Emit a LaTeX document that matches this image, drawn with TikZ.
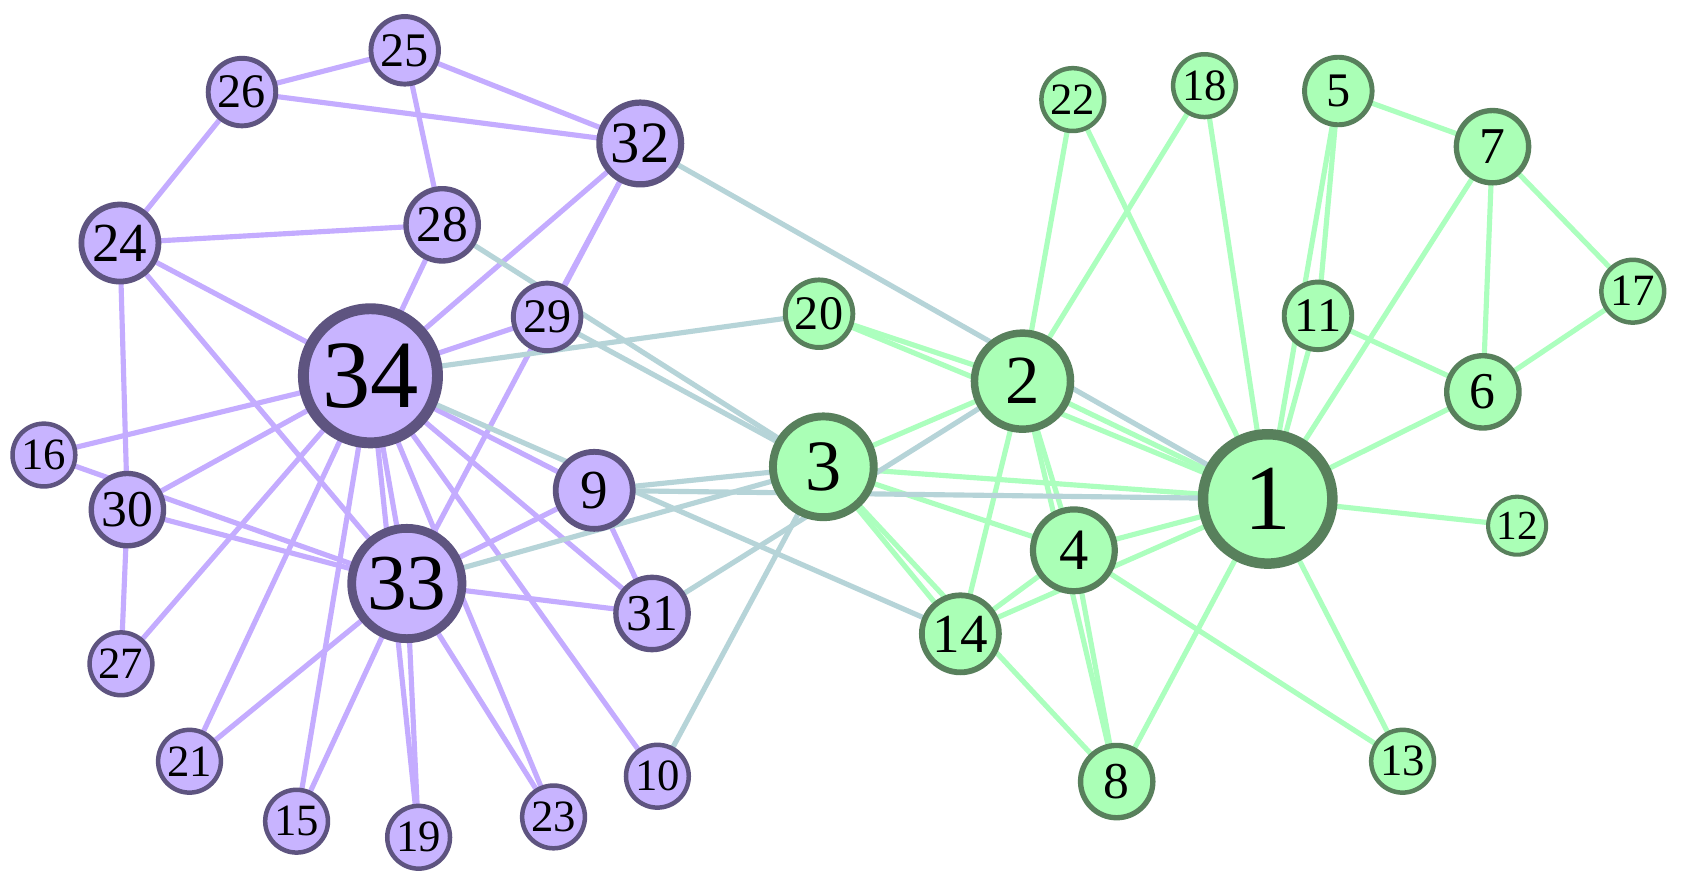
\documentclass[tikz,border=0pt]{standalone}
\usepackage{fontspec}
\setmainfont{Liberation Serif}
\usetikzlibrary{backgrounds}
\pgfdeclarelayer{paper}
\pgfsetlayers{paper,background,main}
\definecolor{pfill}{RGB}{200,180,255}
\definecolor{pdraw}{RGB}{94,84,128}
\definecolor{gfill}{RGB}{170,255,182}
\definecolor{gdraw}{RGB}{88,128,92}
\definecolor{pedge}{RGB}{196,172,255}
\definecolor{gedge}{RGB}{172,255,190}
\definecolor{xedge}{RGB}{182,212,216}
\tikzset{
  pn/.style={circle, fill=pfill, draw=pdraw, inner sep=0pt},
  gn/.style={circle, fill=gfill, draw=gdraw, inner sep=0pt},
  pe/.style={draw=pedge, line width=4.8pt},
  ge/.style={draw=gedge, line width=4.8pt},
  xe/.style={draw=xedge, line width=4.8pt},
}
\newcommand\gnode[5]{%
  \pgfmathsetmacro\grr{29+2.42*(#4-1)}%
  \pgfmathsetmacro\gbw{3.8+0.4*(#4-1)}%
  \pgfmathsetmacro\gfs{1.33*\grr}%
  \node[#5, minimum size={2*\grr-\gbw}, line width=\gbw pt,
        font=\fontsize{\gfs}{\gfs}\selectfont] (n#1) at (#2,#3) {#1};%
}
\begin{document}
\begin{tikzpicture}[x=1pt,y=-1pt]
\begin{pgfonlayer}{paper}
\fill[white] (0,0) rectangle (1571,829);
\end{pgfonlayer}
\useasboundingbox (0,0) rectangle (1571,829);
% green community
\gnode{1}{1184}{466}{16}{gn}
\gnode{2}{955}{356}{9}{gn}
\gnode{3}{769}{436}{10}{gn}
\gnode{4}{1003}{514}{6}{gn}
\gnode{5}{1250}{85}{3}{gn}
\gnode{6}{1385}{366}{4}{gn}
\gnode{7}{1394}{137}{4}{gn}
\gnode{8}{1043}{730}{4}{gn}
\gnode{11}{1231}{295}{3}{gn}
\gnode{12}{1417}{491}{1}{gn}
\gnode{13}{1310}{711}{2}{gn}
\gnode{14}{897}{592}{5}{gn}
\gnode{17}{1525}{272}{2}{gn}
\gnode{18}{1125}{80}{2}{gn}
\gnode{20}{765}{293}{3}{gn}
\gnode{22}{1002}{93}{2}{gn}
% purple community
\gnode{9}{555}{458}{5}{pn}
\gnode{10}{614}{725}{2}{pn}
\gnode{15}{277}{767}{2}{pn}
\gnode{16}{41}{425}{2}{pn}
\gnode{19}{391}{782}{2}{pn}
\gnode{21}{177}{711}{2}{pn}
\gnode{23}{517}{763}{2}{pn}
\gnode{24}{112}{227}{5}{pn}
\gnode{25}{378}{47}{3}{pn}
\gnode{26}{226}{86}{3}{pn}
\gnode{27}{113}{620}{2}{pn}
\gnode{28}{413}{210}{4}{pn}
\gnode{29}{511}{296}{3}{pn}
\gnode{30}{119}{476}{4}{pn}
\gnode{31}{609}{573}{4}{pn}
\gnode{32}{598}{134}{6}{pn}
\gnode{33}{380}{545}{12}{pn}
\gnode{34}{346}{351}{17}{pn}
\begin{pgfonlayer}{background}
% green edges
\foreach \a/\b in {1/2,1/3,1/4,1/5,1/6,1/7,1/8,1/11,1/12,1/13,1/14,1/18,1/20,1/22,
  2/3,2/4,2/8,2/14,2/18,2/20,2/22,3/4,3/8,3/14,4/8,4/13,4/14,5/7,5/11,6/7,6/11,6/17,7/17}
  \path[ge] (n\a.center) -- (n\b.center);
% purple edges
\foreach \a/\b in {9/31,9/33,9/34,10/34,15/33,15/34,16/33,16/34,19/33,19/34,21/33,21/34,
  23/33,23/34,24/26,24/28,24/30,24/33,24/34,25/26,25/28,25/32,26/32,27/30,27/34,28/34,
  29/32,29/34,30/33,30/34,31/33,31/34,32/33,32/34,33/34}
  \path[pe] (n\a.center) -- (n\b.center);
% cross edges
\foreach \a/\b in {1/9,1/32,2/31,3/9,3/10,3/28,3/29,3/33,14/34,20/34}
  \path[xe] (n\a.center) -- (n\b.center);
\end{pgfonlayer}
\end{tikzpicture}
\end{document}
